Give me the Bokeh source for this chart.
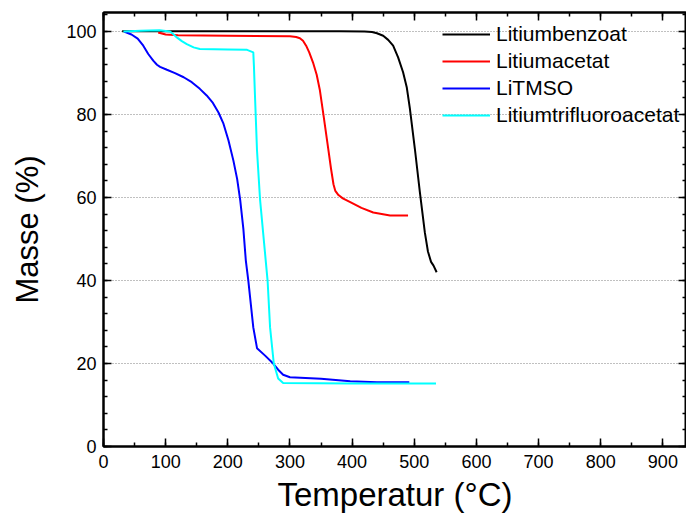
from bokeh.plotting import figure
from bokeh.models import LinearAxis, Range1d, Legend, LegendItem, SingleIntervalTicker
from bokeh.embed import file_html
from bokeh.resources import INLINE

# ---- data ----
benzoat_T = [30, 100, 200, 300, 380, 420, 432, 440, 450, 458, 466, 474, 482, 488, 493, 501, 509, 517, 522, 527, 531, 536]
benzoat_M = [100.1, 100.1, 100.1, 100.1, 100.1, 100.0, 99.9, 99.6, 99.0, 98.0, 96.6, 93.8, 90.2, 86.5, 81.4, 71.7, 61.3, 51.6, 47.0, 44.5, 43.6, 42.0]

acetat_T = [88, 100, 120, 200, 300, 310, 316, 321, 326, 331, 337, 343, 348, 354, 362, 366, 370, 373, 378, 385, 397, 415, 434, 461, 490]
acetat_M = [99.8, 99.3, 99.1, 99.0, 98.9, 98.7, 98.4, 97.8, 96.6, 95.0, 92.6, 89.6, 86.0, 79.8, 71.3, 67.0, 63.2, 61.6, 60.6, 59.8, 58.9, 57.5, 56.4, 55.7, 55.7]

litmso_T = [33, 45, 55, 64, 72, 80, 86, 91, 102, 115, 129, 142, 155, 166, 176, 185, 193, 201, 209, 215, 220, 225, 229, 233, 241, 247, 260, 273, 281, 289, 300, 350, 397, 440, 492]
litmso_M = [100, 99.3, 98.3, 96.6, 94.6, 93.0, 92.0, 91.5, 90.8, 90.0, 89.0, 87.8, 86.2, 84.6, 82.8, 80.5, 77.8, 73.8, 68.9, 64.5, 59.3, 52.5, 44.8, 40.0, 28.7, 23.7, 21.9, 20.0, 18.5, 17.3, 16.7, 16.3, 15.7, 15.5, 15.5]

tfa_T = [32, 60, 90, 107, 112, 118, 126, 134, 145, 155, 200, 231, 241, 242, 244, 247, 252, 261, 264, 268, 274, 281, 289, 400, 535]
tfa_M = [100, 100.2, 100.3, 100.0, 99.4, 98.6, 97.7, 97.0, 96.2, 95.8, 95.7, 95.6, 95.0, 91.8, 83.4, 71.3, 59.3, 44.8, 40.0, 28.7, 20.0, 16.4, 15.3, 15.2, 15.2]

labels = ["Litiumbenzoat", "Litiumacetat", "LiTMSO", "Litiumtrifluoroacetat"]
colors = ["#000000", "#FF0000", "#0000FF", "#00FFFF"]

FONT = "Liberation Sans"

p = figure(width=686, height=518, x_range=Range1d(0, 938), y_range=Range1d(0, 104.6),
           output_backend="svg", toolbar_location=None,
           min_border_left=103, min_border_right=0, min_border_top=12, min_border_bottom=72)

p.background_fill_color = "white"
p.border_fill_color = "white"
p.outline_line_color = "black"
p.outline_line_width = 2

xt = SingleIntervalTicker(interval=100, num_minor_ticks=2)
yt = SingleIntervalTicker(interval=20, num_minor_ticks=5)

p.xaxis.ticker = xt
p.yaxis.ticker = yt
for ax in (p.xaxis[0], p.yaxis[0]):
    ax.axis_line_width = 2
    ax.axis_line_color = "black"
    ax.major_tick_in = 8
    ax.major_tick_out = 0
    ax.minor_tick_in = 4
    ax.minor_tick_out = 0
    ax.major_tick_line_width = 1.5
    ax.minor_tick_line_width = 1.5
    ax.major_tick_line_color = "black"
    ax.minor_tick_line_color = "black"
    ax.major_label_text_font = FONT
    ax.major_label_text_font_size = "18px"
    ax.major_label_text_color = "black"
    ax.axis_label_text_font = FONT
    ax.axis_label_text_font_style = "normal"
    ax.axis_label_text_color = "black"

p.xaxis.axis_label = "Temperatur (°C)"
p.xaxis.axis_label_text_font_size = "33px"
p.xaxis.major_label_standoff = 8
p.xaxis.axis_label_standoff = 5

p.yaxis.axis_label = "Masse (%)"
p.yaxis.axis_label_text_font_size = "31px"
p.yaxis.major_label_standoff = 7
p.yaxis.axis_label_standoff = 18

for loc, tk in (("above", xt), ("right", yt)):
    ax = LinearAxis(ticker=tk, major_label_text_font_size="1px", major_label_standoff=0,
                    major_label_text_color=None, major_label_text_alpha=0,
                    axis_line_width=2, axis_line_color="black",
                    major_tick_in=8, major_tick_out=0, minor_tick_in=4, minor_tick_out=0,
                    major_tick_line_width=1.5, minor_tick_line_width=1.5)
    p.add_layout(ax, loc)

p.xgrid.visible = False
p.ygrid.grid_line_color = "#808080"
p.ygrid.grid_line_dash = "1 2"
p.ygrid.grid_line_width = 1

r1 = p.line(benzoat_T, benzoat_M, line_color=colors[0], line_width=2)
r2 = p.line(acetat_T, acetat_M, line_color=colors[1], line_width=2)
r3 = p.line(litmso_T, litmso_M, line_color=colors[2], line_width=2)
r4 = p.line(tfa_T, tfa_M, line_color=colors[3], line_width=2)

legend = Legend(items=[LegendItem(label=l, renderers=[r]) for l, r in zip(labels, [r1, r2, r3, r4])],
                location=(339, 318), border_line_color=None, background_fill_alpha=0,
                label_text_font=FONT, label_text_font_size="21px", label_text_color="black",
                glyph_width=48, glyph_height=26, label_height=26, spacing=1, padding=0, margin=0,
                label_standoff=6)
p.add_layout(legend)

open("out.html", "w").write(file_html(p, INLINE))
